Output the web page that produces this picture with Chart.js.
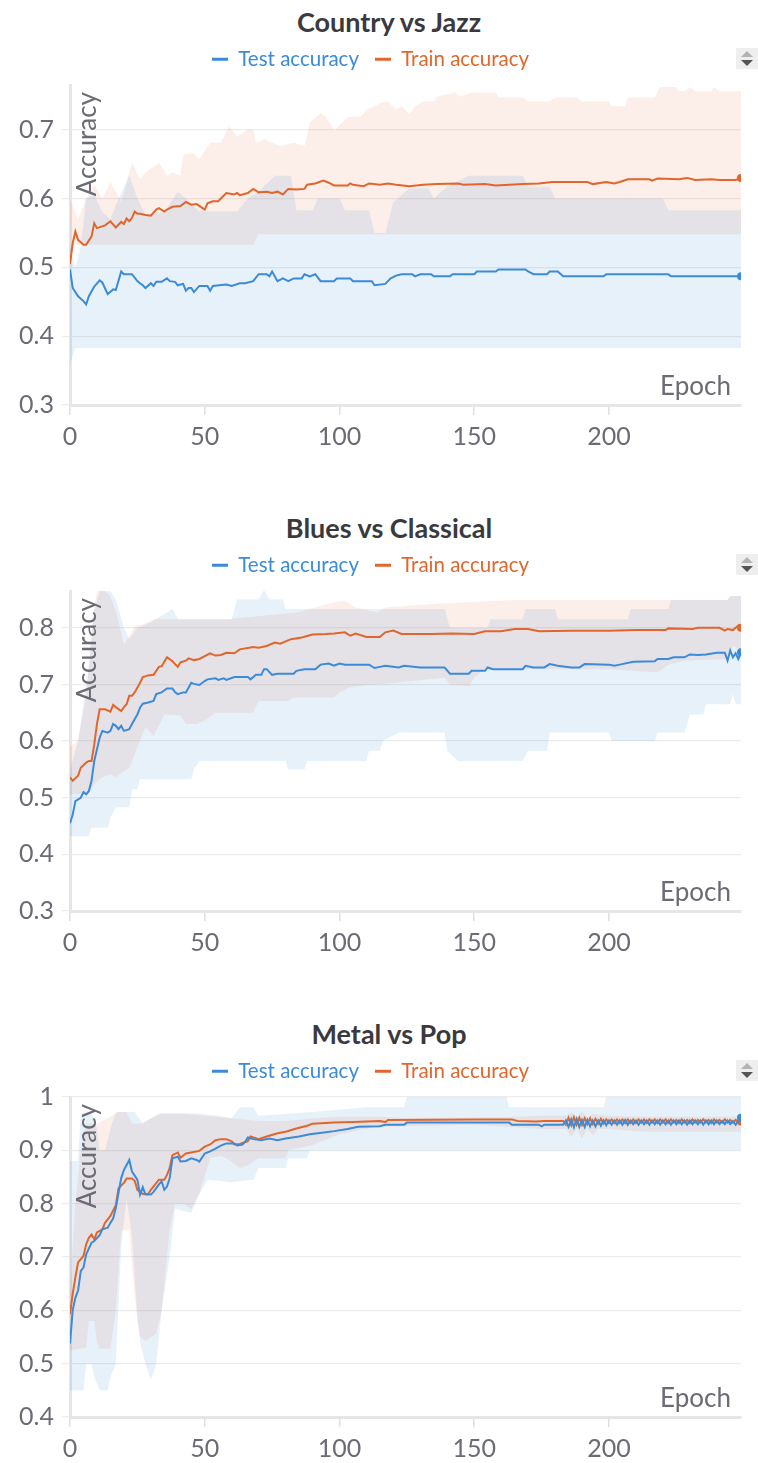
<!DOCTYPE html>
<html>
<head>
<meta charset="utf-8">
<script src="https://cdn.jsdelivr.net/npm/chart.js@4.4.1/dist/chart.umd.min.js"></script>
<style>
  body { margin: 0; background: #fff; overflow: hidden; font-family: Lato, sans-serif; }
  .panel { position: absolute; left: 0; width: 758px; height: 460px; }
  .title { position: absolute; top: 0; left: 20px; right: 0; height: 44px; line-height: 44px;
           text-align: center; font-weight: bold; font-size: 27px; color: #3a3a3e; }
  .panel canvas { position: absolute; left: 0; top: 33px; }
  .sort { position: absolute; left: 736px; top: 48px; width: 22px; height: 21px; background: #eeeeee; }
  .sort .up, .sort .down { position: absolute; left: 5px; width: 0; height: 0;
           border-left: 6px solid transparent; border-right: 6px solid transparent; }
  .sort .up { top: 3px; border-bottom: 6px solid #b4b4b4; }
  .sort .down { top: 12px; border-top: 6px solid #555; }
</style>
</head>
<body>
<div class="panel" style="top:0px"><div class="title">Country vs Jazz</div><canvas id="c1" width="758" height="421"></canvas><div class="sort"><div class="up"></div><div class="down"></div></div></div>
<div class="panel" style="top:506px"><div class="title">Blues vs Classical</div><canvas id="c2" width="758" height="421"></canvas><div class="sort"><div class="up"></div><div class="down"></div></div></div>
<div class="panel" style="top:1012px"><div class="title">Metal vs Pop</div><canvas id="c3" width="758" height="421"></canvas><div class="sort"><div class="up"></div><div class="down"></div></div></div>
<script>
const seriesNames = ['Test accuracy', 'Train accuracy'];
const xTitle = 'Epoch';
const yTitle = 'Accuracy';
const xTicks = [0, 50, 100, 150, 200];

// Country vs Jazz  ([epoch, accuracy])
const c1Test = [[0,0.497],[1,0.47],[3,0.458],[5,0.451],[6,0.446],[7,0.458],[9,0.472],[11,0.481],[12,0.478],[14,0.461],[16,0.468],[17,0.467],[19,0.494],[20,0.49],[23,0.49],[25,0.48],[26,0.477],[27,0.474],[28,0.47],[30,0.477],[31,0.473],[32,0.479],[34,0.479],[36,0.484],[37,0.48],[39,0.479],[40,0.474],[42,0.476],[43,0.466],[44,0.47],[45,0.47],[46,0.464],[48,0.473],[51,0.473],[52,0.466],[53,0.473],[58,0.475],[60,0.473],[63,0.477],[65,0.477],[68,0.48],[70,0.49],[73,0.49],[74,0.487],[75,0.494],[77,0.48],[79,0.484],[81,0.48],[83,0.484],[86,0.484],[87,0.49],[89,0.487],[91,0.49],[93,0.48],[98,0.48],[99,0.484],[104,0.484],[105,0.48],[112,0.48],[113,0.474],[117,0.476],[119,0.484],[121,0.488],[123,0.49],[127,0.49],[128,0.487],[130,0.49],[134,0.49],[135,0.487],[141,0.487],[142,0.49],[150,0.49],[151,0.494],[158,0.494],[159,0.497],[169,0.497],[170,0.494],[172,0.49],[177,0.49],[178,0.494],[181,0.494],[183,0.487],[198,0.487],[199,0.49],[222,0.49],[223,0.487],[249,0.487]];
const c1Train = [[0,0.505],[1,0.535],[2,0.552],[3,0.54],[5,0.533],[6,0.533],[8,0.545],[9,0.564],[10,0.557],[13,0.561],[15,0.567],[17,0.558],[19,0.566],[20,0.563],[21,0.571],[22,0.567],[23,0.572],[24,0.581],[25,0.578],[26,0.578],[28,0.576],[30,0.575],[32,0.584],[33,0.586],[35,0.581],[36,0.584],[38,0.588],[41,0.589],[43,0.595],[45,0.591],[47,0.592],[50,0.584],[51,0.593],[53,0.596],[55,0.596],[56,0.6],[58,0.608],[61,0.606],[62,0.608],[63,0.605],[66,0.608],[68,0.614],[70,0.609],[73,0.61],[75,0.608],[77,0.61],[79,0.606],[81,0.614],[84,0.613],[87,0.614],[88,0.62],[91,0.622],[94,0.626],[96,0.623],[98,0.619],[103,0.619],[104,0.622],[105,0.62],[109,0.618],[111,0.622],[115,0.62],[118,0.622],[121,0.62],[126,0.618],[131,0.62],[136,0.621],[144,0.622],[146,0.62],[154,0.621],[158,0.619],[168,0.621],[174,0.622],[179,0.624],[192,0.624],[194,0.621],[199,0.624],[202,0.622],[204,0.624],[207,0.628],[215,0.628],[216,0.626],[218,0.629],[226,0.628],[229,0.63],[232,0.627],[238,0.628],[241,0.627],[247,0.627],[249,0.63]];
const c1TestMin = [[0,0.36],[2,0.383],[249,0.383]];
const c1TestMax = [[0,0.53],[2,0.5],[4,0.53],[6,0.6],[9,0.605],[12,0.58],[15,0.57],[18,0.6],[22,0.633],[25,0.6],[28,0.577],[35,0.58],[40,0.61],[43,0.6],[48,0.581],[62,0.581],[66,0.6],[70,0.61],[76,0.633],[82,0.633],[84,0.583],[90,0.583],[92,0.6],[100,0.6],[102,0.583],[111,0.583],[113,0.55],[117,0.55],[120,0.595],[126,0.615],[133,0.615],[135,0.6],[140,0.617],[148,0.633],[168,0.633],[170,0.617],[178,0.617],[180,0.6],[220,0.6],[222,0.583],[249,0.583]];
const c1TrainMin = [[0,0.5],[1,0.533],[68,0.533],[70,0.548],[249,0.548]];
const c1TrainMax = [[0,0.6],[3,0.57],[6,0.6],[9,0.62],[12,0.6],[15,0.624],[19,0.595],[23,0.652],[26,0.628],[28,0.638],[33,0.652],[36,0.633],[38,0.638],[41,0.633],[42,0.664],[46,0.666],[48,0.657],[52,0.681],[56,0.681],[59,0.705],[62,0.69],[66,0.7],[68,0.7],[69,0.681],[72,0.686],[78,0.676],[83,0.681],[87,0.676],[89,0.71],[93,0.724],[95,0.719],[98,0.698],[103,0.719],[108,0.719],[110,0.729],[113,0.734],[115,0.739],[118,0.741],[121,0.729],[123,0.734],[126,0.722],[128,0.734],[131,0.741],[135,0.741],[136,0.748],[143,0.754],[145,0.748],[149,0.754],[158,0.754],[159,0.747],[168,0.747],[170,0.741],[178,0.741],[180,0.747],[188,0.747],[190,0.741],[200,0.741],[201,0.734],[206,0.734],[207,0.747],[217,0.747],[219,0.762],[225,0.762],[226,0.756],[228,0.756],[230,0.762],[232,0.756],[238,0.756],[239,0.762],[241,0.756],[249,0.756]];

// Blues vs Classical
const c2Test = [[0,0.455],[1,0.47],[2,0.494],[4,0.5],[5,0.51],[6,0.506],[7,0.512],[8,0.53],[9,0.565],[11,0.606],[12,0.618],[14,0.615],[15,0.618],[16,0.63],[17,0.627],[18,0.621],[19,0.627],[20,0.618],[22,0.621],[23,0.63],[25,0.647],[26,0.659],[27,0.666],[29,0.668],[31,0.671],[32,0.683],[34,0.686],[36,0.693],[38,0.693],[39,0.686],[40,0.683],[42,0.686],[43,0.686],[45,0.703],[46,0.701],[48,0.699],[50,0.706],[51,0.709],[54,0.711],[55,0.708],[57,0.711],[58,0.708],[61,0.713],[66,0.713],[67,0.709],[69,0.717],[71,0.717],[72,0.727],[73,0.727],[75,0.717],[77,0.719],[83,0.719],[84,0.724],[87,0.727],[91,0.727],[93,0.735],[96,0.737],[98,0.733],[100,0.737],[102,0.735],[111,0.735],[113,0.729],[115,0.731],[117,0.733],[122,0.73],[124,0.733],[130,0.73],[139,0.73],[141,0.719],[148,0.719],[149,0.724],[154,0.724],[155,0.73],[157,0.727],[168,0.727],[169,0.733],[172,0.73],[176,0.73],[178,0.736],[181,0.733],[186,0.73],[189,0.73],[191,0.736],[200,0.735],[202,0.733],[204,0.735],[209,0.74],[217,0.741],[218,0.745],[222,0.745],[224,0.748],[228,0.748],[230,0.753],[233,0.752],[236,0.753],[240,0.756],[243,0.756],[244,0.742],[245,0.76],[246,0.748],[247,0.755],[248,0.745],[249,0.757]];
const c2Train = [[0,0.536],[1,0.53],[3,0.539],[4,0.553],[6,0.562],[7,0.565],[8,0.565],[9,0.594],[10,0.63],[11,0.656],[13,0.656],[15,0.652],[16,0.664],[17,0.66],[19,0.653],[20,0.66],[21,0.665],[22,0.68],[23,0.68],[24,0.686],[26,0.703],[27,0.713],[29,0.716],[31,0.717],[33,0.731],[34,0.732],[36,0.748],[38,0.741],[40,0.731],[41,0.739],[43,0.742],[44,0.746],[46,0.743],[48,0.745],[52,0.755],[54,0.751],[56,0.752],[58,0.756],[61,0.755],[63,0.762],[68,0.766],[70,0.765],[73,0.768],[76,0.774],[78,0.772],[82,0.78],[86,0.783],[90,0.788],[95,0.789],[98,0.79],[102,0.792],[104,0.786],[106,0.79],[110,0.784],[115,0.784],[117,0.792],[120,0.795],[123,0.789],[128,0.789],[134,0.789],[142,0.79],[150,0.789],[154,0.794],[160,0.794],[165,0.798],[170,0.798],[174,0.794],[186,0.795],[200,0.795],[210,0.796],[221,0.796],[222,0.799],[231,0.798],[233,0.8],[241,0.8],[243,0.795],[244,0.798],[246,0.796],[248,0.804],[249,0.8]];
const c2TestMin = [[0,0.432],[7,0.432],[8,0.447],[14,0.447],[15,0.465],[17,0.483],[22,0.483],[23,0.515],[25,0.515],[26,0.533],[45,0.533],[46,0.55],[48,0.565],[80,0.565],[81,0.55],[87,0.55],[88,0.565],[110,0.565],[111,0.583],[115,0.583],[116,0.6],[122,0.615],[139,0.615],[140,0.583],[144,0.565],[168,0.565],[170,0.583],[177,0.583],[178,0.615],[200,0.615],[201,0.6],[217,0.6],[218,0.615],[228,0.615],[230,0.647],[235,0.647],[236,0.665],[245,0.665],[246,0.683],[247,0.665],[249,0.665]];
const c2TestMax = [[0,0.55],[3,0.6],[7,0.73],[9,0.83],[11,0.865],[15,0.865],[17,0.85],[20,0.8],[22,0.78],[25,0.8],[30,0.81],[38,0.833],[40,0.815],[60,0.815],[62,0.85],[70,0.85],[72,0.867],[74,0.85],[79,0.85],[80,0.833],[139,0.833],[141,0.8],[155,0.8],[156,0.815],[168,0.815],[169,0.833],[180,0.833],[181,0.815],[207,0.815],[208,0.833],[222,0.833],[223,0.849],[244,0.849],[245,0.856],[249,0.856]];
const c2TrainMin = [[0,0.506],[7,0.506],[9,0.524],[12,0.536],[15,0.541],[17,0.536],[22,0.553],[25,0.589],[28,0.624],[31,0.609],[35,0.647],[41,0.645],[43,0.63],[47,0.63],[51,0.639],[54,0.65],[68,0.65],[70,0.671],[81,0.671],[83,0.677],[98,0.677],[100,0.686],[104,0.695],[110,0.699],[114,0.7],[139,0.712],[141,0.7],[148,0.697],[150,0.712],[154,0.727],[200,0.727],[218,0.721],[222,0.735],[228,0.742],[244,0.745],[246,0.768],[249,0.76]];
const c2TrainMax = [[0,0.59],[3,0.6],[6,0.68],[8,0.8],[10,0.865],[13,0.865],[15,0.855],[17,0.83],[18,0.812],[20,0.771],[22,0.786],[24,0.803],[27,0.806],[31,0.815],[58,0.815],[84,0.827],[89,0.833],[98,0.845],[102,0.848],[106,0.836],[114,0.827],[117,0.836],[137,0.843],[165,0.849],[244,0.849],[245,0.856],[249,0.856]];

// Metal vs Pop
const c3Test = [[0,0.538],[1,0.6],[2,0.624],[3,0.637],[4,0.674],[5,0.68],[6,0.705],[8,0.727],[9,0.73],[11,0.741],[12,0.752],[14,0.755],[15,0.764],[16,0.772],[17,0.792],[18,0.82],[19,0.848],[20,0.863],[22,0.882],[23,0.86],[25,0.845],[26,0.817],[27,0.831],[28,0.817],[30,0.817],[31,0.822],[33,0.836],[34,0.842],[35,0.826],[36,0.832],[37,0.848],[38,0.885],[40,0.888],[41,0.879],[43,0.88],[45,0.885],[47,0.882],[48,0.879],[50,0.894],[52,0.898],[54,0.903],[56,0.909],[58,0.913],[61,0.913],[62,0.909],[64,0.911],[65,0.916],[66,0.924],[68,0.921],[71,0.919],[74,0.922],[77,0.919],[80,0.922],[85,0.926],[89,0.93],[95,0.934],[98,0.936],[103,0.94],[107,0.944],[115,0.945],[117,0.948],[124,0.948],[125,0.952],[163,0.952],[164,0.948],[174,0.948],[175,0.945],[176,0.948],[183,0.948],
  [184,0.956],[185,0.944],[186,0.958],[187,0.943],[188,0.959],[189,0.944],[190,0.957],[191,0.944],[192,0.957],[193,0.945],[194,0.956],[195,0.945],[196,0.956],[197,0.946],[198,0.956],[199,0.947],[200,0.956],[201,0.948],[202,0.956],[203,0.948],[204,0.956],[205,0.948],[206,0.957],[207,0.948],[208,0.956],[209,0.949],[210,0.956],[211,0.948],[212,0.956],[213,0.949],[214,0.956],[215,0.948],[216,0.956],[217,0.949],[218,0.956],[219,0.948],[220,0.956],[221,0.949],[222,0.956],[223,0.948],[224,0.956],[225,0.949],[226,0.956],[227,0.949],[228,0.956],[229,0.948],[230,0.956],[231,0.949],[232,0.956],[233,0.949],[234,0.956],[235,0.948],[236,0.956],[237,0.949],[238,0.956],[239,0.949],[240,0.956],[241,0.949],[242,0.955],[243,0.949],[244,0.956],[245,0.949],[246,0.955],[247,0.948],[248,0.955],[249,0.961]];
const c3Train = [[0,0.593],[1,0.631],[2,0.662],[3,0.69],[5,0.702],[6,0.724],[7,0.736],[8,0.742],[9,0.733],[10,0.746],[12,0.752],[13,0.764],[15,0.777],[17,0.797],[18,0.829],[20,0.839],[21,0.847],[23,0.847],[24,0.843],[25,0.826],[27,0.818],[29,0.818],[30,0.826],[33,0.845],[35,0.845],[36,0.854],[37,0.867],[38,0.891],[40,0.896],[41,0.886],[43,0.894],[45,0.896],[48,0.899],[50,0.907],[52,0.911],[54,0.919],[56,0.921],[58,0.921],[60,0.917],[61,0.911],[63,0.912],[66,0.917],[67,0.926],[70,0.921],[73,0.926],[77,0.932],[80,0.935],[84,0.941],[88,0.946],[90,0.95],[98,0.952],[105,0.953],[115,0.955],[117,0.953],[118,0.957],[150,0.958],[164,0.958],[166,0.955],[173,0.954],[176,0.955],[183,0.955],
  [184,0.948],[185,0.961],[186,0.947],[187,0.962],[188,0.948],[189,0.961],[190,0.948],[191,0.96],[192,0.949],[193,0.96],[194,0.949],[195,0.959],[196,0.95],[197,0.959],[198,0.95],[199,0.958],[200,0.951],[201,0.958],[202,0.951],[203,0.958],[204,0.951],[205,0.958],[206,0.951],[207,0.958],[208,0.951],[209,0.958],[210,0.951],[211,0.958],[212,0.952],[213,0.958],[214,0.951],[215,0.958],[216,0.952],[217,0.958],[218,0.951],[219,0.958],[220,0.952],[221,0.958],[222,0.951],[223,0.958],[224,0.952],[225,0.957],[226,0.951],[227,0.958],[228,0.952],[229,0.957],[230,0.951],[231,0.958],[232,0.952],[233,0.957],[234,0.952],[235,0.958],[236,0.952],[237,0.957],[238,0.951],[239,0.958],[240,0.952],[241,0.957],[242,0.952],[243,0.958],[244,0.952],[245,0.957],[246,0.952],[247,0.957],[248,0.953],[249,0.954]];
const c3TestMin = [[0,0.45],[5,0.45],[6,0.5],[8,0.5],[9,0.475],[11,0.45],[14,0.45],[15,0.475],[17,0.5],[19,0.72],[21,0.81],[23,0.74],[25,0.59],[26,0.54],[28,0.5],[30,0.47],[32,0.5],[34,0.6],[37,0.7],[39,0.79],[45,0.783],[48,0.817],[51,0.845],[60,0.84],[68,0.845],[70,0.867],[80,0.867],[81,0.885],[88,0.885],[89,0.9],[249,0.9]];
const c3TestMax = [[0,0.88],[3,0.88],[4,0.97],[8,0.97],[10,0.94],[11,0.9],[13,0.9],[15,0.94],[17,0.972],[24,0.972],[27,0.95],[33,0.969],[48,0.969],[55,0.965],[60,0.96],[63,0.981],[68,0.981],[70,0.965],[90,0.972],[110,0.981],[124,0.981],[125,1],[162,1],[163,0.981],[198,0.981],[199,1],[249,1]];
const c3TrainMin = [[0,0.525],[6,0.53],[7,0.58],[9,0.58],[10,0.54],[11,0.528],[15,0.528],[17,0.6],[19,0.75],[22,0.75],[23,0.68],[25,0.58],[26,0.55],[28,0.543],[32,0.556],[34,0.6],[37,0.75],[39,0.8],[42,0.8],[45,0.79],[48,0.82],[52,0.885],[56,0.89],[60,0.879],[63,0.867],[66,0.872],[70,0.885],[80,0.885],[81,0.9],[90,0.91],[100,0.93],[114,0.945],[124,0.945],[150,0.948],[175,0.94],[184,0.94],[186,0.925],[188,0.94],[190,0.922],[192,0.94],[194,0.928],[196,0.94],[200,0.94],[213,0.935],[249,0.935]];
const c3TrainMax = [[0,0.64],[2,0.8],[4,0.9],[6,0.95],[10,0.95],[14,0.96],[18,0.972],[21,0.972],[23,0.95],[26,0.95],[30,0.96],[34,0.969],[42,0.969],[50,0.965],[60,0.96],[70,0.955],[80,0.955],[90,0.96],[100,0.963],[115,0.963],[124,0.96],[160,0.962],[175,0.965],[184,0.965],[186,0.972],[188,0.962],[190,0.972],[192,0.963],[194,0.968],[200,0.965],[215,0.963],[249,0.963]];

const blue = '#3b8bd9';
const orange = '#e2662c';
const blueBand = 'rgba(59,139,217,0.12)';
const orangeBand = 'rgba(226,102,44,0.11)';
const tickColor = '#6b6b76';

Chart.defaults.font.family = 'Lato, sans-serif';

const xy = pairs => pairs.map(([x, y]) => ({ x: x, y: y }));

// draws "Epoch" and "Accuracy" inside the plot area, and keeps a gap under the legend
const axisText = {
    id: 'axisText',
    beforeLayout(chart) {
        const legend = chart.legend;
        if (legend && !legend._patched) {
            const fit = legend.fit;
            legend.fit = function () { fit.call(this); this.height = 52; };
            legend._patched = true;
        }
    },
    afterDraw(chart) {
        const { ctx, chartArea: a } = chart;
        ctx.save();
        ctx.fillStyle = tickColor;
        ctx.font = '26px Lato, sans-serif';
        ctx.textBaseline = 'middle';
        ctx.textAlign = 'right';
        ctx.fillText(xTitle, a.right - 10, a.bottom - 18);
        ctx.translate(a.left + 18, a.top + 7);
        ctx.rotate(-Math.PI / 2);
        ctx.fillText(yTitle, 0, 0);
        ctx.restore();
    }
};

function lineSet(label, pairs, color) {
    return {
        label: label,
        data: xy(pairs),
        borderColor: color,
        backgroundColor: color,
        borderWidth: 2,
        pointRadius: ctx => ctx.dataIndex === pairs.length - 1 ? 4 : 0,
        pointBackgroundColor: color,
        pointBorderWidth: 0,
        tension: 0,
        fill: false
    };
}

function bandSet(pairs, fillColor, fillTarget) {
    return {
        label: '',
        data: xy(pairs),
        borderColor: 'transparent',
        borderWidth: 0,
        pointRadius: 0,
        backgroundColor: fillColor,
        fill: fillTarget
    };
}

function makeChart(id, test, train, testMin, testMax, trainMin, trainMax, yMin, yMax) {
    const ctx = document.getElementById(id).getContext('2d');
    return new Chart(ctx, {
        type: 'line',
        data: {
            datasets: [
                lineSet(seriesNames[0], test, blue),
                lineSet(seriesNames[1], train, orange),
                bandSet(testMin, blueBand, false),
                bandSet(testMax, blueBand, '-1'),
                bandSet(trainMin, orangeBand, false),
                bandSet(trainMax, orangeBand, '-1')
            ]
        },
        options: {
            responsive: false,
            animation: false,
            layout: { padding: { left: 0, right: 17, top: 0, bottom: 0 } },
            plugins: {
                title: { display: false },
                tooltip: { enabled: false },
                legend: {
                    position: 'top',
                    labels: {
                        boxWidth: 16,
                        boxHeight: 3,
                        padding: 16,
                        font: { size: 20.5 },
                        filter: item => item.datasetIndex < 2,
                        generateLabels: chart => Chart.defaults.plugins.legend.labels.generateLabels(chart)
                            .map(item => Object.assign(item, { fontColor: item.strokeStyle, lineWidth: 0 }))
                    }
                }
            },
            scales: {
                x: {
                    type: 'linear',
                    min: 0,
                    max: 249,
                    afterBuildTicks: scale => { scale.ticks = xTicks.map(v => ({ value: v })); },
                    afterFit: scale => { scale.height = 49; },
                    ticks: { color: tickColor, font: { size: 25 }, padding: 7, maxRotation: 0 },
                    grid: { drawOnChartArea: false, drawTicks: true, tickLength: 10, color: '#e0e0e0', lineWidth: 1.5 },
                    border: { display: true, color: '#e6e6e6', width: 3 }
                },
                y: {
                    min: yMin,
                    max: yMax,
                    ticks: {
                        stepSize: 0.1,
                        includeBounds: false,
                        color: tickColor,
                        font: { size: 25 },
                        padding: 8,
                        callback: v => String(Math.round(v * 10) / 10)
                    },
                    grid: { color: '#ececec', tickLength: 8, lineWidth: 1.2 },
                    border: { display: true, color: '#e6e6e6', width: 3 },
                    afterFit: scale => { scale.width = 70; }
                }
            }
        },
        plugins: [axisText]
    });
}

makeChart('c1', c1Test, c1Train, c1TestMin, c1TestMax, c1TrainMin, c1TrainMax, 0.3, 0.765);
makeChart('c2', c2Test, c2Train, c2TestMin, c2TestMax, c2TrainMin, c2TrainMax, 0.3, 0.865);
makeChart('c3', c3Test, c3Train, c3TestMin, c3TestMax, c3TrainMin, c3TrainMax, 0.4, 1.0);
</script>
</body>
</html>
